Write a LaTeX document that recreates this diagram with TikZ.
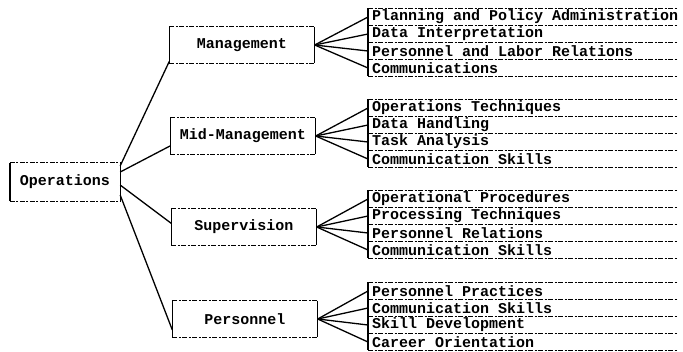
\documentclass[tikz,border=0pt]{standalone}
\usepackage{fontspec}
\setmonofont{Liberation Mono}
\usetikzlibrary{calc}
\newcommand\leafgroup[3]{%
  \foreach \txt [count=\i] in {#3} {
    \node[leaf] (#1\i) at (368,{#2+9+17*(\i-1)}) {\txt};
    \draw[conn] (#1.east) -- (#1\i.west);
    \draw[dashline] ($(#1\i.west)+(0,8)$) -- ++(310,0);
  }
  \draw[dashline] (368,#2) -- ++(310,0);
  \draw[side] (368,#2) -- ($(#14.west)+(0,8)$);
}
\begin{document}
\begin{tikzpicture}[x=1pt,y=-1pt,
  lbl/.style={font=\ttfamily\bfseries\fontsize{15}{15}\selectfont},
  boxnode/.style={lbl, minimum height=36pt, minimum width=145pt, inner sep=0pt},
  leaf/.style={lbl, anchor=west, inner xsep=4pt, inner ysep=0pt},
  conn/.style={line width=1.3pt},
  dashline/.style={line width=1pt, dash pattern=on 5pt off 1.5pt on 2pt off 1.5pt},
  side/.style={line width=1.4pt}]
\useasboundingbox (0,0) rectangle (683,351);

\node[boxnode, minimum width=110pt, minimum height=38pt] (ops) at (65,182) {Operations};
\node[boxnode] (man) at (242,45) {Management};
\node[boxnode] (mid) at (243,136) {Mid-Management};
\node[boxnode] (sup) at (244,227) {Supervision};
\node[boxnode] (per) at (245,319) {Personnel};

\foreach \n in {ops,man,mid,sup,per} {
  \draw[dashline] (\n.north west) -- (\n.north east);
  \draw[dashline] (\n.south west) -- (\n.south east);
  \draw[side] (\n.north west) -- (\n.south west);
  \draw[side] (\n.north east) -- (\n.south east);
}

\draw[conn] ($(ops.north east)!0.08!(ops.south east)$) -- ($(man.north west)!0.95!(man.south west)$);
\draw[conn] ($(ops.north east)!0.24!(ops.south east)$) -- ($(mid.north west)!0.77!(mid.south west)$);
\draw[conn] ($(ops.north east)!0.58!(ops.south east)$) -- ($(sup.north west)!0.40!(sup.south west)$);
\draw[conn] ($(ops.north east)!0.84!(ops.south east)$) -- ($(per.north west)!0.80!(per.south west)$);

\leafgroup{man}{8}{Planning and Policy Administration,Data Interpretation,Personnel and Labor Relations,Communications}
\leafgroup{mid}{99}{Operations Techniques,Data Handling,Task Analysis,Communication Skills}
\leafgroup{sup}{190}{Operational Procedures,Processing Techniques,Personnel Relations,Communication Skills}
\leafgroup{per}{282}{Personnel Practices,Communication Skills,Skill Development,Career Orientation}
\end{tikzpicture}
\end{document}
